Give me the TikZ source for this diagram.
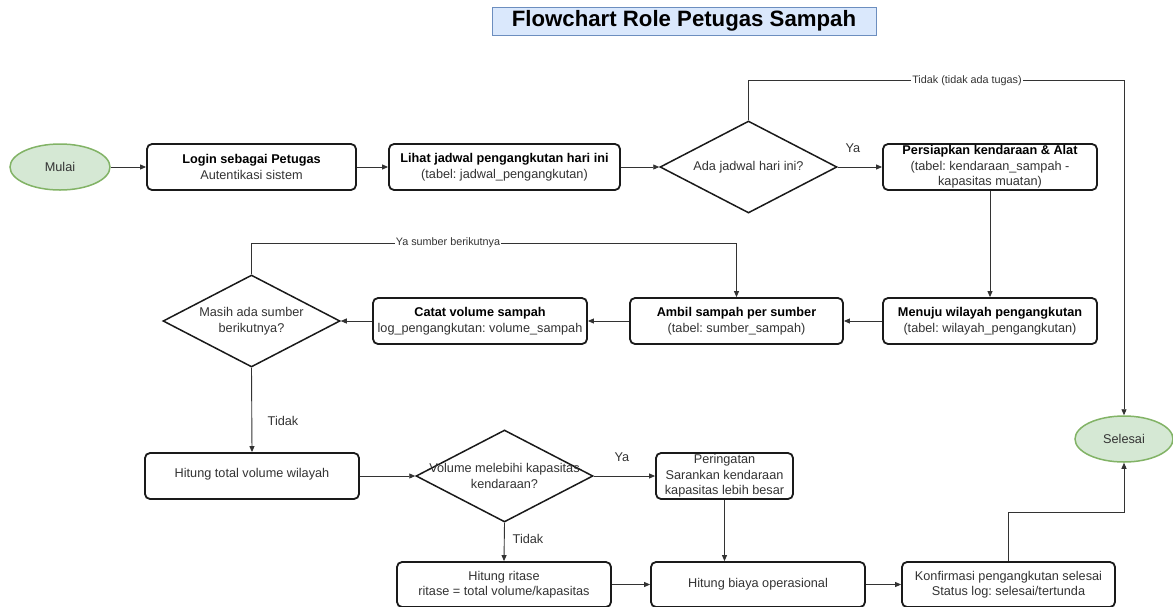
\documentclass[tikz,border=0pt]{standalone}
\usepackage{fontspec}
\setmainfont{Liberation Sans}
\usetikzlibrary{shapes.geometric,arrows.meta}
\frenchspacing

\definecolor{txt}{HTML}{333333}
\definecolor{boxline}{HTML}{1A1A1A}
\definecolor{wire}{HTML}{333333}
\definecolor{termfill}{HTML}{D5E8D4}
\definecolor{termline}{HTML}{82B366}
\definecolor{titlefill}{HTML}{DAE8FC}
\definecolor{titleline}{HTML}{6C8EBF}

\newcommand{\boxhead}[1]{\textbf{\color{black}#1}}

\begin{document}
\begin{tikzpicture}[x=1pt,y=-1pt,
  basefont/.style={font=\fontsize{12.7}{15.5}\selectfont, text=txt},
  box/.style={basefont, draw=boxline, line width=1.8pt, rounded corners=5pt,
    fill=white, align=center, inner sep=1pt, minimum height=46pt},
  decision/.style={basefont, shape=diamond, draw=boxline, line width=1.5pt,
    fill=white, inner sep=0pt, minimum width=177pt, minimum height=92pt},
  terminal/.style={basefont, shape=ellipse, draw=termline, fill=termfill,
    line width=1.5pt, inner sep=0pt, minimum height=46pt},
  flow/.style={draw=wire, line width=0.9pt, -{Triangle[length=6pt,width=5pt]}},
  choice/.style={basefont, inner sep=1pt},
  inline/.style={font=\fontsize{10.8}{12}\selectfont, text=txt, fill=white, inner sep=1pt},
]
\useasboundingbox (0,0) rectangle (1173,606);

% title
\node[draw=titleline, fill=titlefill, line width=0.8pt, minimum width=384pt,
  minimum height=28pt, inner sep=0pt, font=\bfseries\fontsize{22.2}{25}\selectfont]
  (title) at (684,21) {Flowchart Role Petugas Sampah};

% first row
\node[terminal, minimum width=100pt] (start) at (60,167) {Mulai};
\node[box, minimum width=209pt] (login) at (251.5,167)
  {\boxhead{Login sebagai Petugas}\\Autentikasi sistem};
\node[box, minimum width=231pt] (jadwal) at (504.5,167)
  {\boxhead{Lihat jadwal pengangkutan hari ini}\\(tabel: jadwal\_pengangkutan)};
\node[decision] (ada) at (748.5,167) {};
\node[basefont] (adatext) at (ada.center) {Ada jadwal hari ini?};
\node[box, minimum width=214pt] (siap) at (990,167)
  {\boxhead{Persiapkan kendaraan \& Alat}\\(tabel: kendaraan\_sampah -\\kapasitas muatan)};

% second row
\node[box, minimum width=214pt] (menuju) at (990,321)
  {\boxhead{Menuju wilayah pengangkutan}\\(tabel: wilayah\_pengangkutan)};
\node[box, minimum width=213pt] (ambil) at (736.5,321)
  {\boxhead{Ambil sampah per sumber}\\(tabel: sumber\_sampah)};
\node[box, minimum width=214pt] (catat) at (480,321)
  {\boxhead{Catat volume sampah}\\log\_pengangkutan: volume\_sampah};
\node[decision] (masih) at (251.5,321) {};
\node[basefont, align=center] (masihtext) at (masih.center) {Masih ada sumber\\berikutnya?};

% third row
\node[box, minimum width=214pt] (total) at (252,476)
  {\raisebox{7pt}{Hitung total volume wilayah}};
\node[decision] (lebih) at (504.5,476) {};
\node[basefont, align=center] (lebihtext) at (lebih.center) {Volume melebihi kapasitas\\kendaraan?};
\node[box, minimum width=137pt] (warn) at (724.5,476)
  {Peringatan\\Sarankan kendaraan\\kapasitas lebih besar};
\node[terminal, minimum width=98pt] (end) at (1124,439) {Selesai};

% bottom row
\node[box, minimum width=214pt, minimum height=45pt] (ritase) at (504,584.5)
  {Hitung ritase\\ritase = total volume/kapasitas};
\node[box, minimum width=214pt, minimum height=45pt] (biaya) at (758,584.5)
  {Hitung biaya operasional};
\node[box, minimum width=213pt, minimum height=45pt] (konfirm) at (1008.5,584.5)
  {Konfirmasi pengangkutan selesai\\Status log: selesai/tertunda};

% connectors
\draw[flow] (start) -- (login);
\draw[flow] (login) -- (jadwal);
\draw[flow] (jadwal) -- (ada);
\draw[flow] (ada.east) -- (siap.west);
\node[choice] (ya1) at (853,148) {Ya};
\coordinate (noA) at (748.5,80);
\coordinate (noB) at (1124,80);
\draw[flow] (ada.north) -- (noA) -- (noB) -- (end.north);
\node[inline] (nolabel) at (967,81) {Tidak (tidak ada tugas)};

\draw[flow] (siap) -- (menuju);
\draw[flow] (menuju) -- (ambil);
\draw[flow] (ambil) -- (catat);
\draw[flow] (catat) -- (masih.east);
\coordinate (loopA) at (251.5,243);
\coordinate (loopB) at (736.5,243);
\draw[flow] (masih.north) -- (loopA) -- (loopB) -- (ambil.north);
\node[inline] (looplabel) at (448,243) {Ya sumber berikutnya};

\draw[flow] (masih.south) -- (total.north);
\node[choice] (tidak1) at (283,421) {Tidak};
\draw[flow] (total.east) -- (lebih.west);
\draw[flow] (lebih.east) -- (warn.west);
\node[choice] (ya2) at (622,457) {Ya};
\draw[flow] (lebih.south) -- (ritase.north);
\node[choice] (tidak2) at (528,539) {Tidak};
\draw[flow] (ritase) -- (biaya);
\draw[flow] (warn.south) -- (warn.south |- biaya.north);
\draw[flow] (biaya) -- (konfirm);
\coordinate (upA) at (1008.5,512);
\coordinate (upB) at (1124,512);
\draw[flow] (konfirm.north) -- (upA) -- (upB) -- (end.south);
\end{tikzpicture}
\end{document}
